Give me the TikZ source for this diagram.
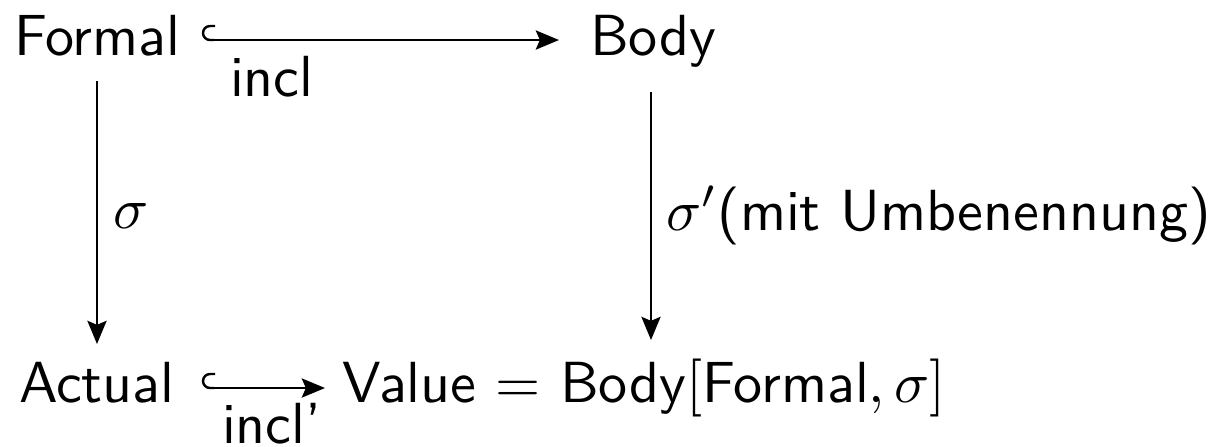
\documentclass[tikz,border=0pt]{standalone}
\usetikzlibrary{arrows.meta}
\renewcommand{\familydefault}{\sfdefault}
\begin{document}
\begin{tikzpicture}[x=0.17241pt,y=-0.17241pt,
  obj/.style={inner sep=0pt,outer sep=0pt,anchor=base west},
  arr/.style={line width=0.42pt,-{Stealth[length=4pt,width=3.3pt,inset=0.7pt]}},
  hookl/.style={line width=0.42pt}]
\useasboundingbox (0,0) rectangle (1218,446);
% objects
\node[obj] (formal) at (14,55) {Formal};
\node[obj] (body) at (590,55) {Body};
\node[obj] (actual) at (19,402) {Actual};
\node[obj] (value) at (342,402) {Value $=$ Body$[\textsf{Formal},\sigma]$};
% labels
\node[obj] (incl) at (230,96) {incl};
\node[obj] (inclp) at (222,443) {incl'};
\node[obj] (sig) at (114,228) {$\sigma$};
\node[obj] (sigp) at (666,230) {$\sigma'$(mit Umbenennung)};
% connector end points
\coordinate (t1) at (214,40);
\coordinate (t2) at (559,40);
\coordinate (b1) at (214,388);
\coordinate (b2) at (325,388);
\coordinate (l1) at (97,81);
\coordinate (l2) at (97,344);
\coordinate (r1) at (651,92);
\coordinate (r2) at (651,340);
% inclusion arrows
\draw[arr] (t1) -- (t2);
\draw[hookl] (t1) -- ++(-4,0) arc[start angle=90,end angle=270,radius=7] -- ++(5,0);
\draw[arr] (b1) -- (b2);
\draw[hookl] (b1) -- ++(-4,0) arc[start angle=90,end angle=270,radius=7] -- ++(5,0);
% vertical arrows
\draw[arr] (l1) -- (l2);
\draw[arr] (r1) -- (r2);
\end{tikzpicture}
\end{document}
